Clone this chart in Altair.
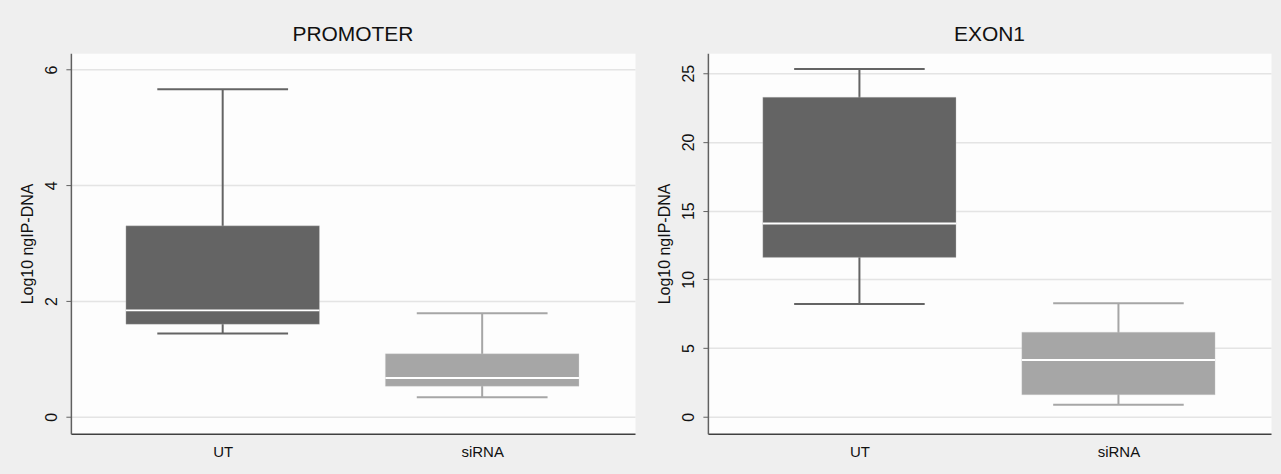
import altair as alt
import pandas as pd

groups = ["UT", "siRNA"]
positions = [1, 2]
colors = ["#646464", "#a6a6a6"]

prom_lower = [1.44, 0.34]
prom_q1 = [1.60, 0.53]
prom_median = [1.84, 0.67]
prom_q3 = [3.30, 1.09]
prom_upper = [5.66, 1.79]
prom_ticks = [0, 2, 4, 6]
prom_domain = [-0.29, 6.28]

exon_lower = [8.2, 0.87]
exon_q1 = [11.6, 1.6]
exon_median = [14.06, 4.13]
exon_q3 = [23.26, 6.16]
exon_upper = [25.3, 8.26]
exon_ticks = [0, 5, 10, 15, 20, 25]
exon_domain = [-1.23, 26.45]

X_DOMAIN = [0.415, 2.589]
BOX_HALF = 0.373
CAP_HALF = 0.252
FONT = "Liberation Sans"


def panel(title, lower, q1, med, q3, upper, ticks, ydomain, width):
    df = pd.DataFrame({
        "group": groups, "pos": positions,
        "lower": lower, "q1": q1, "median": med, "q3": q3, "upper": upper,
    })
    base = alt.Chart(df).transform_calculate(
        box_l=f"datum.pos - {BOX_HALF}", box_r=f"datum.pos + {BOX_HALF}",
        cap_l=f"datum.pos - {CAP_HALF}", cap_r=f"datum.pos + {CAP_HALF}",
    )
    xscale = alt.Scale(domain=X_DOMAIN, nice=False, zero=False)
    yscale = alt.Scale(domain=ydomain, nice=False, zero=False)
    color = alt.Color("group:N", scale=alt.Scale(domain=groups, range=colors), legend=None)
    xaxis = alt.Axis(values=positions, labelExpr="datum.value == 1 ? 'UT' : 'siRNA'",
                     ticks=False, tickSize=0, grid=False, title=None, labelPadding=11,
                     labelFontSize=15, domainColor="#404040", domainWidth=1.5)
    yaxis = alt.Axis(values=ticks, format="d", grid=True, gridColor="#e4e4e4", gridWidth=1.5,
                     title="Log10 ngIP-DNA", titleFontSize=16, titleFontWeight="normal",
                     titlePadding=8, labelAngle=-90, labelFontSize=16, labelPadding=6,
                     tickSize=5, tickColor="#606060", domainColor="#606060", domainWidth=1.5)

    whisker = base.mark_rule(strokeWidth=2).encode(
        x=alt.X("pos:Q", scale=xscale, axis=xaxis),
        y=alt.Y("lower:Q", scale=yscale, axis=yaxis),
        y2="upper:Q",
        color=color,
    )
    cap_lo = base.mark_rule(strokeWidth=2).encode(
        x=alt.X("cap_l:Q", scale=xscale), x2="cap_r:Q",
        y=alt.Y("lower:Q", scale=yscale), color=color,
    )
    cap_hi = base.mark_rule(strokeWidth=2).encode(
        x=alt.X("cap_l:Q", scale=xscale), x2="cap_r:Q",
        y=alt.Y("upper:Q", scale=yscale), color=color,
    )
    box = base.mark_bar(stroke="#d0d0d0", strokeWidth=0.6, strokeOpacity=0.5).encode(
        x=alt.X("box_l:Q", scale=xscale), x2="box_r:Q",
        y=alt.Y("q1:Q", scale=yscale), y2="q3:Q",
        color=color,
    )
    median = base.mark_rule(strokeWidth=2, color="white").encode(
        x=alt.X("box_l:Q", scale=xscale), x2="box_r:Q",
        y=alt.Y("median:Q", scale=yscale),
    )
    return alt.layer(whisker, cap_lo, cap_hi, box, median).properties(
        width=width, height=381,
        title=alt.TitleParams(title, fontSize=21, font=FONT, fontWeight="normal",
                              color="#111111", offset=8, anchor="middle"),
    )


left = panel("PROMOTER", prom_lower, prom_q1, prom_median, prom_q3, prom_upper,
             prom_ticks, prom_domain, 565)
right = panel("EXON1", exon_lower, exon_q1, exon_median, exon_q3, exon_upper,
              exon_ticks, exon_domain, 564)

chart = alt.hconcat(left, right, spacing=73, bounds="flush").properties(
    background="#efefef",
    padding={"left": 19, "top": 23, "right": 9, "bottom": 24},
).configure_view(
    fill="#fdfdfd", stroke="transparent"
).configure_axis(
    labelFont=FONT, titleFont=FONT, labelColor="#111111", titleColor="#111111"
)

chart.save("out.html", embed_options={"renderer": "svg", "actions": False})
